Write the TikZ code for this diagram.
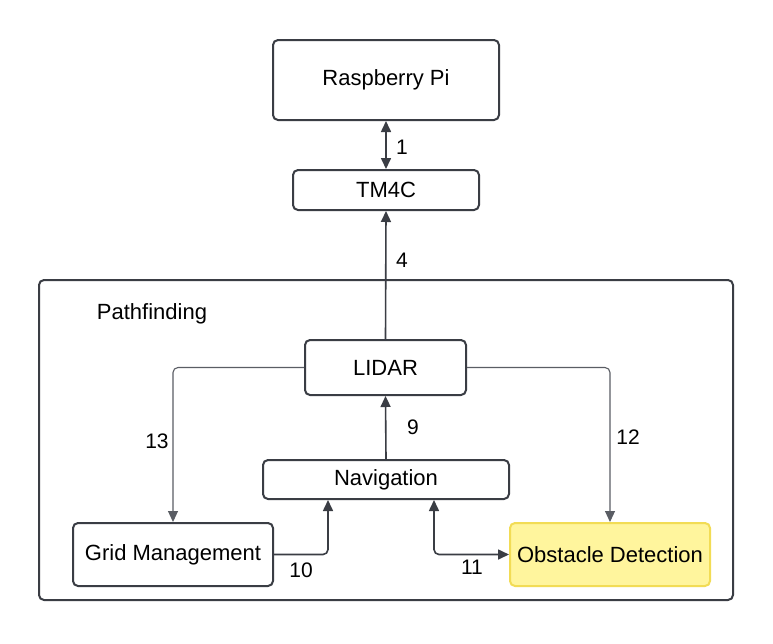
\documentclass[tikz,border=0pt]{standalone}
\usepackage{fontspec}
\setmainfont{Liberation Sans}
\usetikzlibrary{arrows.meta}
\definecolor{linec}{HTML}{3A3D44}
\definecolor{thinc}{HTML}{5A5D64}
\definecolor{yfill}{HTML}{FFF59D}
\definecolor{ydraw}{HTML}{F2DC55}
\tikzset{
  box/.style={draw=linec, line width=2pt, rounded corners=5pt, fill=white,
    inner sep=0pt, align=center, font=\fontsize{22}{26}\selectfont, text=black},
  lbl/.style={inner sep=0pt, font=\fontsize{21}{24}\selectfont, text=black},
  conn/.style={draw=linec, line width=1.6pt, rounded corners=5pt,
    -{Triangle[length=11pt,width=10pt]}},
  thinconn/.style={draw=thinc, line width=1.1pt, rounded corners=5pt,
    -{Triangle[length=11pt,width=10pt]}},
}
\begin{document}
\begin{tikzpicture}[x=1pt,y=-1pt]
\useasboundingbox[fill=white] (0,0) rectangle (773,643);
% container
\node[box, minimum width=694pt, minimum height=320pt, fill=none] (pf) at (386,440) {};
\node[lbl, font=\fontsize{22}{26}\selectfont] (pflbl) at (152,314) {Pathfinding};
% nodes
\node[box, minimum width=226pt, minimum height=80pt] (rpi) at (386,80) {Raspberry Pi};
\node[box, minimum width=186pt, minimum height=40pt] (tm4c) at (386,190) {TM4C};
\node[box, minimum width=161pt, minimum height=55pt] (lidar) at (385.5,367.5) {LIDAR};
\node[box, minimum width=246pt, minimum height=39pt] (nav) at (386,479.5) {Navigation};
\node[box, minimum width=200pt, minimum height=63pt] (grid) at (173,554.5) {Grid Management};
\node[box, minimum width=200pt, minimum height=63pt, fill=yfill, draw=ydraw] (obs) at (610,554.5) {Obstacle Detection};
% connectors
\draw[conn, {Triangle[length=11pt,width=10pt]}-{Triangle[length=11pt,width=10pt]}] (rpi.south) -- (tm4c.north);
\node[lbl] (l1) at (402,147) {1};
\draw[conn] (lidar.north) -- (tm4c.south);
\node[lbl] (l4) at (402,260) {4};
\draw[conn] (nav.north) -- (lidar.south);
\node[lbl] (l9) at (413,427) {9};
\draw[thinconn] (lidar.west) -| (grid.north);
\node[lbl] (l13) at (157,441) {13};
\draw[thinconn] (lidar.east) -| (obs.north);
\node[lbl] (l12) at (628,437) {12};
\draw[conn] (grid.east) -| ([xshift=-58pt]nav.south);
\node[lbl] (l10) at (301,570) {10};
\draw[conn, {Triangle[length=11pt,width=10pt]}-{Triangle[length=11pt,width=10pt]}] ([xshift=48pt]nav.south) |- (obs.west);
\node[lbl] (l11) at (472,567) {11};
\end{tikzpicture}
\end{document}
